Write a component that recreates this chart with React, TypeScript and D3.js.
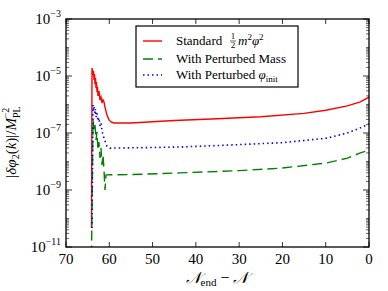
import React from 'react';
import * as d3 from 'd3';

// ---- data (x = N_end - N, y = log10 |δφ2(k)|/M_PL^-2) ----
const redN = [64.11, 63.99, 63.76, 63.65, 63.53, 63.42, 63.3, 63.18, 63.07, 62.95, 62.84, 62.72, 62.61, 62.38, 62.15, 61.91, 61.68, 61.45, 61.22, 60.99, 60.53, 60.07, 59.6, 58.91, 55, 45, 35, 25, 15, 10, 5, 2, 0];
const redLog = [-10.33, -4.72, -4.96, -4.82, -5.14, -4.93, -5.28, -5.07, -5.42, -5.21, -5.56, -5.39, -5.7, -5.53, -5.84, -5.74, -5.95, -5.84, -5.91, -6.09, -6.37, -6.54, -6.61, -6.65, -6.65, -6.56, -6.5, -6.43, -6.31, -6.2, -6.05, -5.91, -5.74];

const massN = [64.11, 63.76, 63.53, 63.3, 63.07, 62.84, 62.61, 62.38, 62.15, 61.91, 61.68, 61.45, 61.22, 60.99, 60.76, 55, 43.7, 30, 20, 9.7, 5, 2, 0];
const massLog = [-11.3, -6.54, -6.89, -6.72, -7.25, -6.96, -7.6, -7.32, -7.88, -7.53, -8.12, -7.77, -8.3, -9.0, -8.47, -8.46, -8.4, -8.32, -8.23, -8.05, -7.88, -7.7, -7.6];

const initN = [63.99, 63.76, 63.65, 63.53, 63.3, 63.18, 63.07, 62.84, 62.61, 62.38, 62.15, 61.91, 61.68, 61.45, 60.99, 60.53, 59.84, 50, 43.7, 35, 20, 9.7, 5, 2, 0];
const initLog = [-10.33, -6.02, -6.19, -6.09, -6.3, -6.16, -6.44, -6.3, -6.58, -6.47, -6.75, -6.65, -6.93, -7.07, -7.28, -7.46, -7.53, -7.51, -7.49, -7.44, -7.34, -7.18, -7.0, -6.82, -6.68];

const xTicks = [70, 60, 50, 40, 30, 20, 10, 0];
const yMajorExp = [-3, -5, -7, -9, -11];

const W = 388, H = 291;
const L = 66, R = 369, T = 19, B = 247;
const FF = "'Liberation Serif', serif";

export default function App() {
  const x = d3.scaleLinear().domain([70, 0]).range([L, R]);
  const y = d3.scaleLog().domain([1e-11, 1e-3]).range([B, T]);

  const mk = (ns: number[], ls: number[]) =>
    d3.line<number>().x((_, i) => x(ns[i])).y((_, i) => y(Math.pow(10, ls[i])))(ns.map((_, i) => i)) || '';

  const minor: number[] = [];
  for (let e = -11; e < -3; e++) {
    for (let s = 1; s <= 9; s++) {
      const v = s * Math.pow(10, e);
      if (s === 1 && yMajorExp.includes(e)) continue;
      minor.push(v);
    }
  }
  const xMinor = d3.range(0, 71, 10);

  return (
    <svg width={W} height={H} style={{ display: 'block', position: 'absolute', left: 0, top: 0, fontFamily: FF }}>
      <defs>
        <clipPath id="plot">
          <rect x={L} y={T} width={R - L} height={B - T} />
        </clipPath>
      </defs>
      <rect x={0} y={0} width={W} height={H} fill="#fff" />
      <g clipPath="url(#plot)" fill="none">
        <path d={mk(redN, redLog)} stroke="#ff0000" strokeWidth={1.4} />
        <path d={mk(massN, massLog)} stroke="#008000" strokeWidth={1.4} strokeDasharray="10,5" />
        <path d={mk(initN, initLog)} stroke="#0000ff" strokeWidth={1.6} strokeDasharray="1.5,3" />
      </g>
      {/* frame */}
      <rect x={L} y={T} width={R - L} height={B - T} fill="none" stroke="#000" strokeWidth={1.3} />
      {/* x ticks */}
      {xMinor.map((t) => (
        <g key={'xt' + t} stroke="#000" strokeWidth={0.8}>
          <line x1={x(t)} x2={x(t)} y1={B} y2={B - 5} />
          <line x1={x(t)} x2={x(t)} y1={T} y2={T + 5} />
        </g>
      ))}
      {xTicks.map((t) => (
        <text key={'xl' + t} x={x(t)} y={264} textAnchor="middle" fontSize={15}>{t}</text>
      ))}
      {/* y ticks */}
      {yMajorExp.map((e) => (
        <g key={'ym' + e} stroke="#000" strokeWidth={0.8}>
          <line x1={L} x2={L + 6} y1={y(Math.pow(10, e))} y2={y(Math.pow(10, e))} />
          <line x1={R} x2={R - 6} y1={y(Math.pow(10, e))} y2={y(Math.pow(10, e))} />
        </g>
      ))}
      {minor.map((v, i) => (
        <g key={'yn' + i} stroke="#000" strokeWidth={0.6}>
          <line x1={L} x2={L + 3} y1={y(v)} y2={y(v)} />
          <line x1={R} x2={R - 3} y1={y(v)} y2={y(v)} />
        </g>
      ))}
      {yMajorExp.map((e) => (
        <text key={'yl' + e} x={61} y={y(Math.pow(10, e)) + 5} textAnchor="end" fontSize={15}>
          10<tspan fontSize={10} dy={-7}>{'\u2212' + -e}</tspan>
        </text>
      ))}
      {/* axis labels */}
      <text x={217} y={283} textAnchor="middle" fontSize={16}>
        <tspan fontStyle="italic">𝒩</tspan>
        <tspan fontSize={11} dy={3}>end</tspan>
        <tspan dy={-3}>{' \u2212 '}</tspan>
        <tspan fontStyle="italic">𝒩</tspan>
      </text>
      <text transform={`translate(16,142) rotate(-90)`} textAnchor="middle" fontSize={15}>
        |<tspan fontStyle="italic">δφ</tspan>
        <tspan fontSize={10} dy={3}>2</tspan>
        <tspan dy={-3}>(</tspan>
        <tspan fontStyle="italic">k</tspan>)|/
        <tspan fontStyle="italic">M</tspan>
        <tspan fontSize={10} dy={4}>PL</tspan>
        <tspan fontSize={10} dx={-12} dy={-11}>{'\u22122'}</tspan>
      </text>
      {/* legend */}
      <rect x={136} y={26} width={162} height={61} fill="#fff" stroke="#000" strokeWidth={1.2} />
      <line x1={143} x2={162} y1={41} y2={41} stroke="#ff0000" strokeWidth={1.4} />
      <line x1={143} x2={162} y1={59} y2={59} stroke="#008000" strokeWidth={1.4} strokeDasharray="10,5" />
      <line x1={143} x2={162} y1={75} y2={75} stroke="#0000ff" strokeWidth={1.6} strokeDasharray="1.5,3" />
      <text x={176} y={45} fontSize={13}>Standard</text>
      <text x={233} y={39} fontSize={9} textAnchor="middle">1</text>
      <line x1={230} x2={236} y1={41} y2={41} stroke="#000" strokeWidth={0.6} />
      <text x={233} y={48} fontSize={9} textAnchor="middle">2</text>
      <text x={238} y={45} fontSize={13}>
        <tspan fontStyle="italic">m</tspan>
        <tspan fontSize={9} dy={-5}>2</tspan>
        <tspan fontStyle="italic" dy={5}>φ</tspan>
        <tspan fontSize={9} dy={-5}>2</tspan>
      </text>
      <text x={176} y={63} fontSize={13}>With Perturbed Mass</text>
      <text x={176} y={79} fontSize={13}>
        With Perturbed <tspan fontStyle="italic">φ</tspan>
        <tspan fontSize={9} dy={3}>init</tspan>
      </text>
    </svg>
  );
}
